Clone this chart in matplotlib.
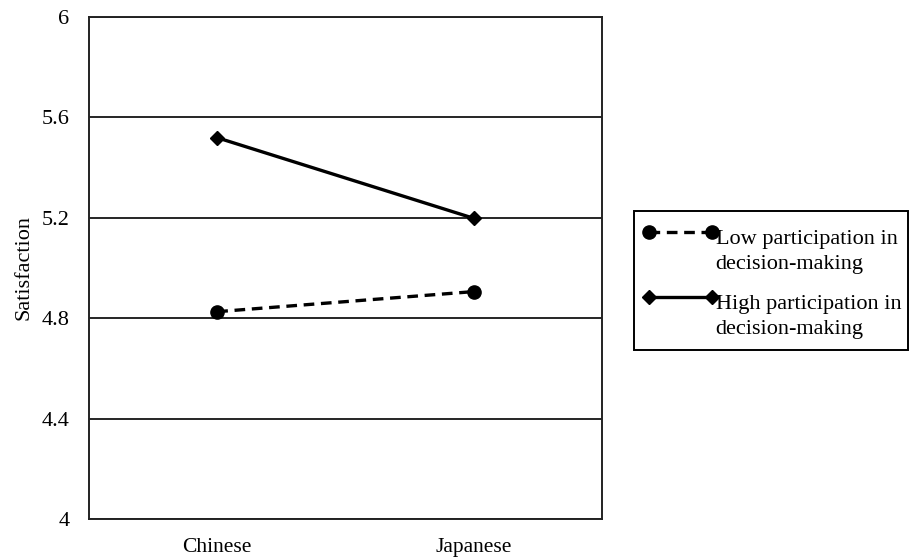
import numpy as np
import matplotlib.pyplot as plt
from matplotlib.patches import Rectangle
from matplotlib.legend_handler import HandlerLine2D

plt.rcParams['font.family'] = ['Liberation Serif', 'DejaVu Serif']

groups = ['Chinese', 'Japanese']
low_vals = [4.826, 4.906]
high_vals = [5.519, 5.198]
y_ticks = [4, 4.4, 4.8, 5.2, 5.6, 6]
y_tick_labels = ['4', '4.4', '4.8', '5.2', '5.6', '6']


class FirstLineHandler(HandlerLine2D):
    # put the handle level with the first line of a two-line label
    def __init__(self, shift, **kw):
        super().__init__(**kw)
        self.shift = shift

    def create_artists(self, legend, orig_handle, xdescent, ydescent,
                       width, height, fontsize, trans):
        arts = super().create_artists(legend, orig_handle, xdescent, ydescent,
                                      width, height, fontsize, trans)
        for a in arts:
            a.set_ydata(np.asarray(a.get_ydata(), dtype=float) + self.shift)
        return arts


W, H = 910, 558
fig = plt.figure(figsize=(W / 100, H / 100), dpi=100)
ax = fig.add_axes([89 / W, 1 - 519 / H, 513 / W, 502 / H])

x = list(range(len(groups)))
l1, = ax.plot(x, low_vals, color='black', linestyle=(0, (3.2, 2.0)), linewidth=2.4,
              marker='o', markersize=9.5, label='Low participation in\ndecision-making')
l2, = ax.plot(x, high_vals, color='black', linestyle='-', linewidth=2.4,
              marker='D', markersize=7.5, label='High participation in\ndecision-making')

ax.set_xlim(-0.5, 1.5)
ax.set_ylim(4, 6)
ax.set_xticks(x)
ax.set_xticklabels(groups, fontsize=15.5)
ax.set_yticks(y_ticks)
ax.set_yticklabels(y_tick_labels, fontsize=16)
ax.tick_params(axis='both', length=0)
ax.tick_params(axis='y', pad=14)
ax.tick_params(axis='x', pad=14)
ax.grid(axis='y', color='black', linewidth=1.2)
ax.set_axisbelow(True)
for s in ax.spines.values():
    s.set_linewidth(1.4)
    s.set_color('#222222')

ax.set_ylabel('Satisfaction', fontsize=16, labelpad=6)

# legend frame drawn separately so the vertical padding can be larger
fig.patches.append(Rectangle((634 / W, 1 - 350 / H), 274 / W, 139 / H,
                             transform=fig.transFigure, fill=False,
                             edgecolor='black', linewidth=1.4))
hm = {l1: FirstLineHandler(13.5), l2: FirstLineHandler(13.5)}
leg = ax.legend(handler_map=hm, loc='upper left',
                bbox_to_anchor=(636 / W, 1 - 223 / H),
                bbox_transform=fig.transFigure, fontsize=16, numpoints=2,
                handlelength=3.4, handletextpad=-0.12, labelspacing=0.95,
                borderpad=0.3, borderaxespad=0, frameon=False)
for t in leg.get_texts():
    t.set_linespacing(1.44)

fig.savefig('out.png', dpi=100)
